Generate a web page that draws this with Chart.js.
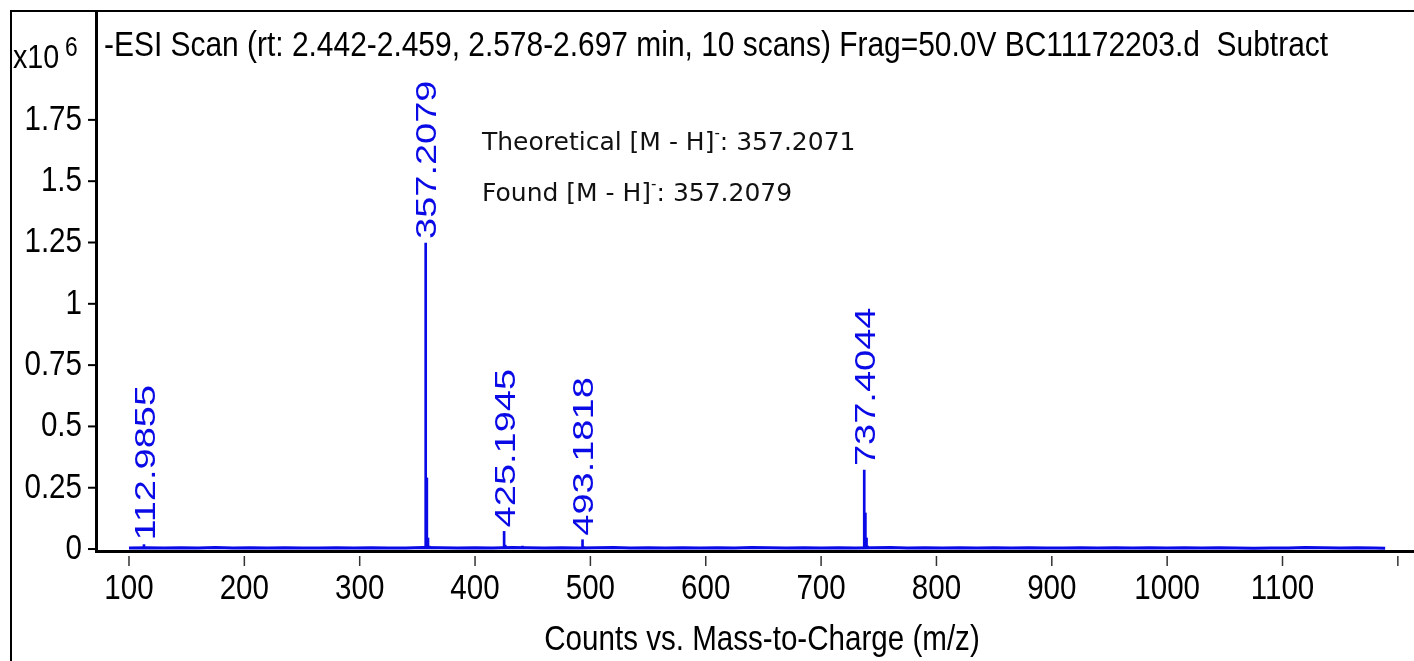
<!DOCTYPE html>
<html>
  <head>
    <meta charset="UTF-8" />
    <title>-ESI Scan BC11172203.d</title>
    <script src="https://cdn.jsdelivr.net/npm/chart.js"></script>
    <style>
      body {
        margin: 0;
        background-color: #ffffff;
      }
      .wrap {
        position: relative;
        width: 1414px;
        height: 661px;
      }
      .note {
        position: absolute;
        left: 482px;
        font-family: 'DejaVu Sans', Verdana, sans-serif;
        font-size: 25px;
        line-height: 1;
        color: #111;
        white-space: nowrap;
      }
      .note sup {
        font-size: 15px;
        vertical-align: 12px;
        line-height: 0;
      }
    </style>
  </head>
  <body>
    <div class="wrap">
      <canvas id="myChart"></canvas>
      <div class="note" style="top: 129px;">Theoretical [M - H]<sup>-</sup>: 357.2071</div>
      <div class="note" style="top: 180px;">Found [M - H]<sup>-</sup>: 357.2079</div>
    </div>

    <script>
      // axis ticks
      const mzTicks = [100, 200, 300, 400, 500, 600, 700, 800, 900, 1000, 1100, 1200];
      const mzTickLabels = ["100", "200", "300", "400", "500", "600", "700", "800", "900", "1000", "1100", ""];
      const countTicks = [0, 0.25, 0.5, 0.75, 1, 1.25, 1.5, 1.75];
      const countTickLabels = ["0", "0.25", "0.5", "0.75", "1", "1.25", "1.5", "1.75"];

      // peaks (m/z, counts x10^6)
      const peakMz = [112.9855, 178.1, 357.2079, 358.211, 359.214, 360.22, 425.1945, 426.198, 441.2, 493.1818, 494.19, 575.3, 737.4044, 738.408, 739.41, 740.41, 760.4, 1117.6];
      const peakCounts = [0.018, 0.006, 1.248, 0.29, 0.045, 0.012, 0.072, 0.016, 0.012, 0.038, 0.009, 0.006, 0.322, 0.147, 0.045, 0.012, 0.007, 0.008];

      // baseline noise
      const noiseMz = [100, 115, 130, 145, 160, 175, 190, 205, 220, 235, 250, 265, 280, 295, 310, 325, 340, 355, 370, 385, 400, 415, 432, 445, 460, 475, 490, 505, 520, 535, 550, 565, 580, 595, 610, 625, 640, 655, 670, 685, 700, 715, 730, 745, 760, 775, 790, 805, 820, 835, 850, 865, 880, 895, 910, 925, 940, 955, 970, 985, 1000, 1015, 1030, 1045, 1060, 1075, 1090, 1105, 1120, 1135, 1150, 1165, 1180, 1189];
      const noiseCounts = [0.004, 0.005, 0.004, 0.005, 0.004, 0.006, 0.004, 0.005, 0.004, 0.005, 0.004, 0.004, 0.005, 0.004, 0.005, 0.004, 0.004, 0.006, 0.005, 0.004, 0.005, 0.004, 0.006, 0.005, 0.004, 0.005, 0.004, 0.005, 0.006, 0.004, 0.005, 0.004, 0.005, 0.004, 0.005, 0.004, 0.006, 0.005, 0.004, 0.005, 0.004, 0.005, 0.004, 0.005, 0.006, 0.004, 0.005, 0.004, 0.005, 0.004, 0.005, 0.004, 0.005, 0.004, 0.004, 0.005, 0.004, 0.005, 0.004, 0.005, 0.004, 0.005, 0.004, 0.005, 0.004, 0.003, 0.004, 0.004, 0.006, 0.005, 0.004, 0.005, 0.004, 0.003];

      // labelled peaks
      const labelMz = [112.9855, 357.2079, 425.1945, 493.1818, 737.4044];
      const labelCounts = [0.018, 1.248, 0.072, 0.038, 0.322];
      const labelText = ["112.9855", "357.2079", "425.1945", "493.1818", "737.4044"];

      const titleText = "-ESI Scan (rt: 2.442-2.459, 2.578-2.697 min, 10 scans) Frag=50.0V BC11172203.d  Subtract";
      const xTitle = "Counts vs. Mass-to-Charge (m/z)";

      const SX = 0.845; // instrument text is squeezed horizontally
      const FONT = '"Liberation Sans", Arial, sans-serif';
      const BLUE = "#0a0ae6";

      function squeezed(ctx, text, x, y, size, color, align, vertical, sx) {
        ctx.save();
        ctx.translate(x, y);
        ctx.scale(sx || SX, 1);
        if (vertical) ctx.rotate(-Math.PI / 2);
        ctx.font = size + "px " + FONT;
        ctx.fillStyle = color;
        ctx.textAlign = align;
        ctx.textBaseline = "alphabetic";
        ctx.fillText(text, 0, vertical ? size * 0.358 : 0);
        ctx.restore();
      }

      const decor = {
        id: "decor",
        beforeDraw(chart) {
          const ctx = chart.ctx;
          ctx.save();
          ctx.fillStyle = "#fff";
          ctx.fillRect(0, 0, chart.width, chart.height);
          ctx.restore();
        },
        afterDraw(chart) {
          const { ctx, chartArea, scales } = chart;
          const x = scales.x, y = scales.y;

          // outer frame
          ctx.save();
          ctx.strokeStyle = "#000";
          ctx.lineWidth = 2;
          ctx.beginPath();
          ctx.moveTo(11, chart.height);
          ctx.lineTo(11, 11);
          ctx.lineTo(chart.width, 11);
          ctx.stroke();

          // y ticks
          ctx.lineWidth = 2;
          countTicks.forEach((v, i) => {
            const py = y.getPixelForValue(v);
            ctx.beginPath();
            ctx.moveTo(chartArea.left - 8, py);
            ctx.lineTo(chartArea.left, py);
            ctx.stroke();
            squeezed(ctx, countTickLabels[i], 82, py + 10, 35, "#000", "right", false);
          });

          // x ticks
          ctx.strokeStyle = "#333";
          ctx.lineWidth = 1.5;
          mzTicks.forEach((v, i) => {
            const px = x.getPixelForValue(v);
            ctx.beginPath();
            ctx.moveTo(px, chartArea.bottom + 5);
            ctx.lineTo(px, chartArea.bottom + 15);
            ctx.stroke();
            squeezed(ctx, mzTickLabels[i], px, chartArea.bottom + 48, 35, "#000", "center", false);
          });
          ctx.restore();

          // peak labels
          labelMz.forEach((m, i) => {
            const px = x.getPixelForValue(m);
            const py = y.getPixelForValue(labelCounts[i]) - 4;
            squeezed(ctx, labelText[i], px, py, 38, BLUE, "left", true, 0.78);
          });

          // titles
          squeezed(ctx, titleText, 104, 56, 35, "#000", "left", false, 0.855);
          squeezed(ctx, "x10", 13, 68, 34, "#000", "left", false);
          squeezed(ctx, "6", 65, 56, 27, "#000", "left", false);
          squeezed(ctx, xTitle, 762, 650, 35, "#000", "center", false);
        }
      };

      const ctx = document.getElementById("myChart").getContext("2d");
      new Chart(ctx, {
        type: "bar",
        data: {
          datasets: [
            {
              type: "bar",
              data: peakMz.map((m, i) => ({ x: m, y: peakCounts[i] })),
              backgroundColor: BLUE,
              borderWidth: 0,
              barThickness: 2
            },
            {
              type: "line",
              data: noiseMz.map((m, i) => ({ x: m, y: noiseCounts[i] })),
              borderColor: BLUE,
              borderWidth: 3,
              pointRadius: 0,
              tension: 0
            }
          ]
        },
        options: {
          responsive: true,
          maintainAspectRatio: false,
          animation: false,
          layout: { padding: { top: 11, left: 0, right: 0, bottom: 0 } },
          plugins: {
            legend: { display: false },
            tooltip: { enabled: false }
          },
          scales: {
            x: {
              type: "linear",
              min: 71.4,
              max: 1214,
              offset: false,
              afterBuildTicks: s => { s.ticks = mzTicks.map(v => ({ value: v })); },
              afterFit: s => { s.height = 110; },
              ticks: { display: false },
              grid: { display: true, drawOnChartArea: false, drawTicks: false },
              border: { display: true, color: "#000", width: 3 }
            },
            y: {
              type: "linear",
              min: -0.008,
              max: 2.194,
              afterBuildTicks: s => { s.ticks = countTicks.map(v => ({ value: v })); },
              afterFit: s => { s.width = 96; },
              ticks: { display: false },
              grid: { display: true, drawOnChartArea: false, drawTicks: false },
              border: { display: true, color: "#000", width: 3 }
            }
          }
        },
        plugins: [decor]
      });
    </script>
  </body>
</html>
